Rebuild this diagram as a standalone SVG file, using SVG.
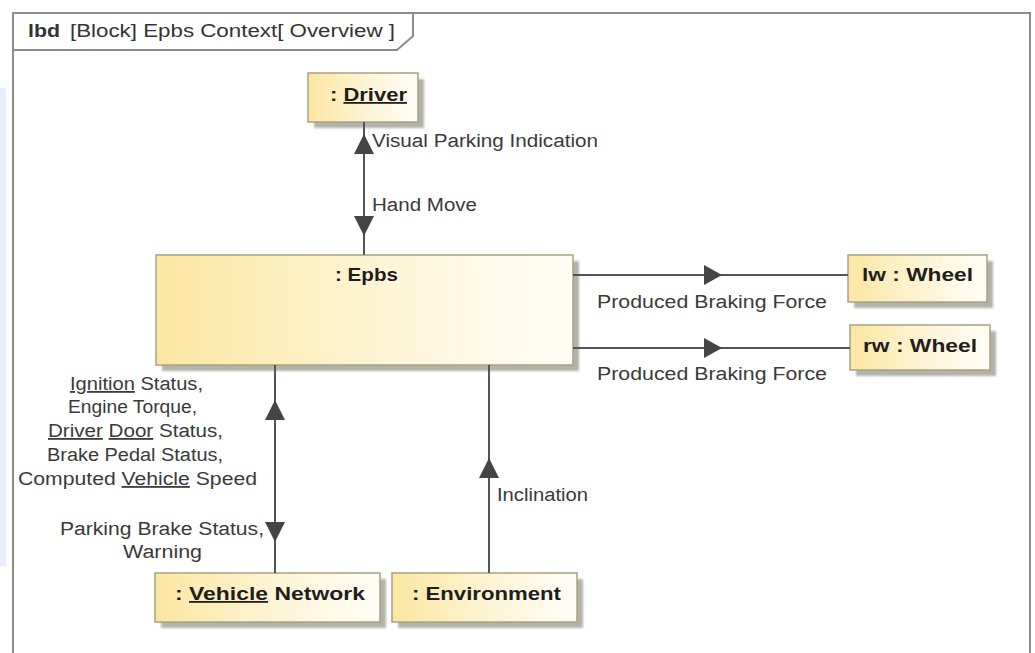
<svg xmlns="http://www.w3.org/2000/svg" width="1035" height="653" viewBox="0 0 1035 653">
  <defs>
    <linearGradient id="partFill" x1="0" y1="0" x2="1" y2="0">
      <stop offset="0" stop-color="#fce6a2"/>
      <stop offset="0.55" stop-color="#fef5d6"/>
      <stop offset="1" stop-color="#fffdf6"/>
    </linearGradient>
    <filter id="soft" x="-5%" y="-5%" width="115%" height="120%">
      <feGaussianBlur stdDeviation="1.2"/>
    </filter>
  </defs>
  <style>
    .frame { fill: none; stroke: #8c8c8c; stroke-width: 2; }
    .shadow { fill: #b4b3aa; filter: url(#soft); }
    .part { fill: url(#partFill); stroke: #a8a37f; stroke-width: 1.5; }
    .name { font-family: "Liberation Sans", Arial, sans-serif; font-size: 18px; font-weight: bold; fill: #1e1e1e; }
    .label { font-family: "Liberation Sans", Arial, sans-serif; font-size: 18px; fill: #3a3a3a; }
    .title { font-family: "Liberation Sans", Arial, sans-serif; font-size: 18px; fill: #333; }
    .wire { stroke: #555; stroke-width: 2; fill: none; }
    .head { fill: #444; }
    .u { text-decoration: underline; }
  </style>

  <rect width="1035" height="653" fill="#ffffff"/>
  <!-- side strip -->
  <rect x="0" y="88" width="6" height="478" fill="#e7f0fa"/>

  <!-- diagram frame and name tab -->
  <g id="frame">
    <path class="frame" d="M13 670 L13 13 L1030 13 L1030 670"/>
    <path class="frame" d="M13 50 L397 50 L413 36 L413 13"/>
    <text class="title" x="28" y="37" font-weight="bold" textLength="32" lengthAdjust="spacingAndGlyphs">lbd</text>
    <text class="title" x="70" y="37" textLength="325" lengthAdjust="spacingAndGlyphs">[Block] Epbs Context[ Overview ]</text>
  </g>

  <g id="driver">
    <rect class="shadow" x="314" y="79" width="110" height="49"/>
    <rect class="part" x="308" y="73" width="110" height="49"/>
    <text class="name" x="330" y="101" textLength="77" lengthAdjust="spacingAndGlyphs">: <tspan class="u">Driver</tspan></text>
  </g>

  <g id="epbs">
    <rect class="shadow" x="162" y="261" width="417" height="110"/>
    <rect class="part" x="156" y="255" width="417" height="110"/>
    <text class="name" x="335" y="281" textLength="63" lengthAdjust="spacingAndGlyphs">: Epbs</text>
  </g>

  <g id="lw">
    <rect class="shadow" x="854" y="261" width="139" height="47"/>
    <rect class="part" x="848" y="255" width="139" height="47"/>
    <text class="name" x="862" y="281" textLength="111" lengthAdjust="spacingAndGlyphs">lw : Wheel</text>
  </g>

  <g id="rw">
    <rect class="shadow" x="856" y="331" width="140" height="45"/>
    <rect class="part" x="850" y="325" width="140" height="45"/>
    <text class="name" x="863" y="352" textLength="114" lengthAdjust="spacingAndGlyphs">rw : Wheel</text>
  </g>

  <g id="vehicle-network">
    <rect class="shadow" x="161" y="579" width="225" height="49"/>
    <rect class="part" x="155" y="573" width="225" height="49"/>
    <text class="name" x="175" y="600" textLength="190" lengthAdjust="spacingAndGlyphs">: <tspan class="u">Vehicle</tspan> Network</text>
  </g>

  <g id="environment">
    <rect class="shadow" x="398" y="579" width="185" height="49"/>
    <rect class="part" x="392" y="573" width="185" height="49"/>
    <text class="name" x="412" y="600" textLength="149" lengthAdjust="spacingAndGlyphs">: Environment</text>
  </g>

  <!-- connectors, drawn over the part shadows -->
  <g id="connectors">
    <line class="wire" x1="364" y1="122" x2="364" y2="255"/>
    <polygon class="head" points="364,134 354,154 374,154"/>
    <polygon class="head" points="354,216 374,216 364,236"/>
    <text class="label" x="372" y="147" textLength="226" lengthAdjust="spacingAndGlyphs">Visual Parking Indication</text>
    <text class="label" x="372" y="211" textLength="105" lengthAdjust="spacingAndGlyphs">Hand Move</text>

    <line class="wire" x1="573" y1="275" x2="848" y2="275"/>
    <polygon class="head" points="704,265 722,275 704,285"/>
    <text class="label" x="597" y="308" textLength="230" lengthAdjust="spacingAndGlyphs">Produced Braking Force</text>

    <line class="wire" x1="573" y1="348" x2="850" y2="348"/>
    <polygon class="head" points="704,338 722,348 704,358"/>
    <text class="label" x="597" y="380" textLength="230" lengthAdjust="spacingAndGlyphs">Produced Braking Force</text>

    <line class="wire" x1="275" y1="365" x2="275" y2="573"/>
    <polygon class="head" points="275,400 265,420 285,420"/>
    <polygon class="head" points="265,522 285,522 275,542"/>
    <text class="label" x="136.5" y="390" text-anchor="middle" textLength="133" lengthAdjust="spacingAndGlyphs"><tspan class="u">Ignition</tspan> Status,</text>
    <text class="label" x="132.5" y="413" text-anchor="middle" textLength="129" lengthAdjust="spacingAndGlyphs">Engine Torque,</text>
    <text class="label" x="135.5" y="437" text-anchor="middle" textLength="175" lengthAdjust="spacingAndGlyphs"><tspan class="u">Driver</tspan> <tspan class="u">Door</tspan> Status,</text>
    <text class="label" x="135" y="461" text-anchor="middle" textLength="176" lengthAdjust="spacingAndGlyphs">Brake Pedal Status,</text>
    <text class="label" x="137.5" y="485" text-anchor="middle" textLength="239" lengthAdjust="spacingAndGlyphs">Computed <tspan class="u">Vehicle</tspan> Speed</text>
    <text class="label" x="162" y="535" text-anchor="middle" textLength="204" lengthAdjust="spacingAndGlyphs">Parking Brake Status,</text>
    <text class="label" x="162.5" y="558" text-anchor="middle" textLength="79" lengthAdjust="spacingAndGlyphs">Warning</text>

    <line class="wire" x1="489" y1="365" x2="489" y2="573"/>
    <polygon class="head" points="489,458 479,478 499,478"/>
    <text class="label" x="497" y="501" textLength="91" lengthAdjust="spacingAndGlyphs">Inclination</text>
  </g>
</svg>
